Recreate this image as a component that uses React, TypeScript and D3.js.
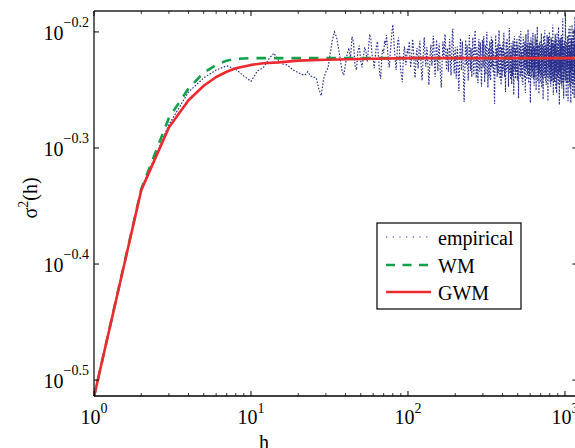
import React from "react";
import * as d3 from "d3";

const W = 575;
const H = 448;
const PL = 94;
const PT = 11;
const PR = 577.4;
const PB = 396;

const xDomain = [1, 1200];
const yDomain = [0.3064, 0.6577];
const xTickExps = [0, 1, 2, 3];
const yTickExps = [-0.2, -0.3, -0.4, -0.5];
const yTickLabels = ["\u22120.2", "\u22120.3", "\u22120.4", "\u22120.5"];

const modelLags = [1, 2, 3, 4, 5, 6, 7, 8, 10, 12, 15, 20, 30, 50, 100, 1200];
const wmValues = [0.306, 0.462, 0.532, 0.564, 0.582, 0.591, 0.596, 0.598, 0.599, 0.599, 0.599, 0.599, 0.599, 0.599, 0.599, 0.599];
const gwmValues = [0.306, 0.461, 0.522, 0.551, 0.567, 0.577, 0.583, 0.587, 0.591, 0.593, 0.594, 0.596, 0.597, 0.598, 0.599, 0.599];

const empirical = [
  0.306, 0.462, 0.525, 0.560, 0.576, 0.585, 0.590, 0.586, 0.578, 0.572, 0.584, 0.588, 0.598, 0.605, 0.596, 0.592, 0.591, 0.587, 0.584, 0.582,
  0.580, 0.579, 0.583, 0.578, 0.577, 0.576, 0.564, 0.556, 0.575, 0.583, 0.588, 0.605, 0.621, 0.631, 0.625, 0.612, 0.598, 0.584, 0.579, 0.592,
  0.604, 0.611, 0.598, 0.625, 0.618, 0.590, 0.585, 0.608, 0.614, 0.596, 0.588, 0.601, 0.612, 0.607, 0.595, 0.610, 0.628, 0.622, 0.603, 0.598,
  0.587, 0.602, 0.614, 0.619, 0.596, 0.582, 0.575, 0.599, 0.610, 0.605, 0.620, 0.615, 0.627, 0.611, 0.596, 0.588, 0.603, 0.617, 0.630, 0.640,
  0.626, 0.609, 0.597, 0.585, 0.601, 0.618, 0.624, 0.612, 0.595, 0.584, 0.578, 0.571, 0.590, 0.606, 0.613, 0.602, 0.591, 0.598, 0.610, 0.604,
  0.612, 0.619, 0.601, 0.588, 0.595, 0.607, 0.622, 0.615, 0.598, 0.583, 0.576, 0.590, 0.604, 0.611, 0.596, 0.587, 0.599, 0.613, 0.620, 0.608,
  0.594, 0.581, 0.573, 0.586, 0.602, 0.616, 0.624, 0.610, 0.597, 0.589, 0.600, 0.612, 0.605, 0.591, 0.579, 0.568, 0.582, 0.597, 0.609, 0.615,
  0.603, 0.590, 0.598, 0.614, 0.626, 0.618, 0.601, 0.586, 0.577, 0.592, 0.608, 0.621, 0.612, 0.596, 0.584, 0.595, 0.610, 0.617, 0.604, 0.589,
  0.580, 0.572, 0.565, 0.578, 0.594, 0.607, 0.619, 0.611, 0.598, 0.602, 0.615, 0.628, 0.620, 0.605, 0.593, 0.585, 0.598, 0.611, 0.606, 0.592,
  0.583, 0.596, 0.609, 0.622, 0.614, 0.600, 0.588, 0.579, 0.591, 0.604, 0.618, 0.632, 0.635, 0.619, 0.603, 0.590, 0.581, 0.594, 0.607, 0.612,
  0.599, 0.586, 0.575, 0.588, 0.601, 0.613, 0.608, 0.595, 0.582, 0.570, 0.561, 0.574, 0.589, 0.603, 0.616, 0.623, 0.610, 0.597, 0.585, 0.593,
  0.606, 0.619, 0.612, 0.598, 0.583, 0.569, 0.556, 0.549, 0.563, 0.580, 0.596, 0.610, 0.621, 0.613, 0.600, 0.591, 0.603, 0.615, 0.608, 0.594,
  0.582, 0.573, 0.587, 0.600, 0.614, 0.627, 0.619, 0.605, 0.592, 0.584, 0.597, 0.611, 0.604, 0.589, 0.577, 0.590, 0.603, 0.616, 0.624, 0.611,
  0.598, 0.586, 0.579, 0.592, 0.606, 0.620, 0.629, 0.633, 0.618, 0.602, 0.588, 0.576, 0.584, 0.599, 0.612, 0.607, 0.593, 0.581, 0.570, 0.585,
  0.600, 0.614, 0.622, 0.609, 0.595, 0.583, 0.591, 0.605, 0.618, 0.611, 0.597, 0.586, 0.574, 0.566, 0.579, 0.594, 0.608, 0.621, 0.613, 0.599,
  0.588, 0.602, 0.617, 0.626, 0.612, 0.597, 0.583, 0.571, 0.586, 0.601, 0.615, 0.608, 0.593, 0.580, 0.592, 0.607, 0.620, 0.631, 0.618, 0.604, 0.590, 0.578, 0.565, 0.581, 0.596,
  0.611, 0.603, 0.589, 0.576, 0.590, 0.605, 0.619, 0.612, 0.598, 0.585, 0.573, 0.587, 0.600, 0.614, 0.625, 0.616, 0.602, 0.588, 0.596, 0.609, 0.621, 0.610, 0.595, 0.582, 0.594,
  0.608, 0.599, 0.584, 0.570, 0.558, 0.547, 0.562, 0.578, 0.593, 0.606, 0.619, 0.627, 0.614, 0.600, 0.587, 0.597, 0.611, 0.604, 0.590, 0.577, 0.589, 0.603, 0.616, 0.609, 0.594,
  0.581, 0.592, 0.606, 0.620, 0.633, 0.624, 0.610, 0.596, 0.583, 0.575, 0.588, 0.602, 0.615, 0.607, 0.592, 0.579, 0.568, 0.583, 0.598, 0.612, 0.604, 0.589, 0.576, 0.590, 0.605,
  0.618, 0.611, 0.597, 0.584, 0.593, 0.607, 0.621, 0.630, 0.617, 0.602, 0.589, 0.577, 0.591, 0.606, 0.599, 0.585, 0.572, 0.560, 0.575, 0.591, 0.605, 0.619, 0.612, 0.597, 0.583,
  0.595, 0.609, 0.623, 0.614, 0.600, 0.587, 0.598, 0.612, 0.605, 0.590, 0.578, 0.566, 0.580, 0.595, 0.610, 0.624, 0.636, 0.622, 0.607, 0.593, 0.581, 0.594, 0.608, 0.601, 0.586,
  0.574, 0.588, 0.603, 0.617, 0.609, 0.594, 0.581, 0.569, 0.584, 0.599, 0.613, 0.606, 0.591, 0.578, 0.592, 0.607, 0.620, 0.611, 0.596, 0.582, 0.571, 0.557, 0.572, 0.588, 0.603,
  0.616, 0.626, 0.613, 0.599, 0.585, 0.596, 0.610, 0.603, 0.588, 0.575, 0.589, 0.604, 0.618, 0.610, 0.595, 0.582, 0.594, 0.608, 0.622, 0.615, 0.600, 0.586, 0.573, 0.587, 0.602,
  0.615, 0.607, 0.592, 0.579, 0.567, 0.553, 0.569, 0.585, 0.600, 0.614, 0.627, 0.618, 0.603, 0.589, 0.598, 0.612, 0.605, 0.590, 0.577, 0.591, 0.606, 0.620, 0.632, 0.621, 0.606,
  0.592, 0.580, 0.593, 0.607, 0.600, 0.585, 0.572, 0.586, 0.601, 0.615, 0.608, 0.593, 0.580, 0.568, 0.583, 0.598, 0.612, 0.625, 0.616, 0.601, 0.587, 0.597, 0.611, 0.604, 0.589,
  0.576, 0.590, 0.605, 0.619, 0.611, 0.596, 0.582, 0.571, 0.559, 0.574, 0.590, 0.604, 0.618, 0.628, 0.614, 0.599, 0.586, 0.595, 0.609, 0.602, 0.587, 0.574, 0.588, 0.603, 0.617,
  0.609, 0.594, 0.580, 0.592, 0.606, 0.621, 0.634, 0.623, 0.608, 0.594, 0.582, 0.570, 0.585, 0.600, 0.613, 0.606, 0.591, 0.578, 0.590, 0.604, 0.618, 0.610, 0.595, 0.581, 0.569,
  0.556, 0.548, 0.564, 0.580, 0.596, 0.611, 0.624, 0.615, 0.600, 0.587, 0.597, 0.610, 0.603, 0.589, 0.576, 0.590, 0.605, 0.619, 0.612, 0.597, 0.583, 0.592, 0.606, 0.620, 0.630,
  0.617, 0.602, 0.588, 0.575, 0.587, 0.601, 0.614, 0.607, 0.592, 0.579, 0.567, 0.582, 0.597, 0.611, 0.604, 0.589, 0.576, 0.590, 0.605, 0.619, 0.628, 0.616, 0.601, 0.587, 0.596,
  0.610, 0.603, 0.588, 0.574, 0.562, 0.577, 0.593, 0.608, 0.622, 0.614, 0.599, 0.585, 0.594, 0.608, 0.621, 0.638, 0.626, 0.611, 0.597, 0.584, 0.572, 0.586, 0.601, 0.615, 0.607,
  0.592, 0.579, 0.591, 0.605, 0.598, 0.583, 0.570, 0.558, 0.573, 0.589, 0.604, 0.618, 0.610, 0.595, 0.581, 0.593, 0.607, 0.620, 0.612, 0.597, 0.583, 0.571, 0.586, 0.601, 0.614,
  0.606, 0.591, 0.578, 0.589, 0.603, 0.617, 0.629, 0.619, 0.604, 0.590, 0.577, 0.565, 0.580, 0.596, 0.611, 0.603, 0.588, 0.575, 0.587, 0.602, 0.616, 0.608, 0.593, 0.579, 0.566,
  0.552, 0.567, 0.583, 0.598, 0.613, 0.626, 0.618, 0.603, 0.589, 0.598, 0.611, 0.604, 0.589, 0.576, 0.590, 0.606, 0.620, 0.633, 0.622, 0.607, 0.593, 0.581, 0.594, 0.608, 0.601,
  0.586, 0.573, 0.587, 0.602, 0.616, 0.609, 0.594, 0.580, 0.568, 0.583, 0.599, 0.613, 0.606, 0.591, 0.577, 0.589, 0.604, 0.618, 0.627, 0.615, 0.600, 0.586, 0.595, 0.609, 0.602,
  0.587, 0.574, 0.561, 0.550, 0.566, 0.582, 0.597, 0.612, 0.625, 0.617, 0.602, 0.588, 0.597, 0.611, 0.604, 0.589, 0.575, 0.590, 0.605, 0.619, 0.631, 0.620, 0.605, 0.591, 0.579,
  0.592, 0.606, 0.599, 0.584, 0.571, 0.585, 0.600, 0.614, 0.607, 0.592, 0.578, 0.566, 0.581, 0.597, 0.612, 0.624, 0.615, 0.600, 0.586, 0.595, 0.609, 0.622, 0.613, 0.598, 0.584,
  0.572, 0.586, 0.601, 0.615, 0.607, 0.592, 0.578, 0.590, 0.604, 0.619, 0.635, 0.640, 0.624, 0.609, 0.595, 0.582, 0.569, 0.557, 0.572, 0.588, 0.603, 0.617, 0.609, 0.594, 0.580,
  0.593, 0.607, 0.621, 0.612, 0.597, 0.583, 0.571, 0.585, 0.600, 0.614, 0.606, 0.591, 0.577, 0.589, 0.604, 0.618, 0.628, 0.616, 0.601, 0.587, 0.575, 0.563, 0.578, 0.594, 0.609,
  0.622, 0.613, 0.598, 0.584, 0.594, 0.608, 0.601, 0.586, 0.572, 0.559, 0.574, 0.590, 0.605, 0.619, 0.630, 0.618, 0.603, 0.589, 0.598, 0.612, 0.605, 0.590, 0.576, 0.589, 0.603,
  0.617, 0.609, 0.594, 0.580, 0.568, 0.583, 0.598, 0.612, 0.626, 0.637, 0.624, 0.609, 0.595, 0.582, 0.592, 0.606, 0.599, 0.584, 0.570, 0.556, 0.546, 0.561, 0.577, 0.593, 0.608,
  0.621, 0.613, 0.598, 0.584, 0.595, 0.609, 0.623, 0.615, 0.600, 0.586, 0.574, 0.588, 0.603, 0.617, 0.610, 0.595, 0.581, 0.569, 0.584, 0.599, 0.614, 0.627, 0.618, 0.603, 0.589,
  0.598, 0.612, 0.605, 0.590, 0.576, 0.564, 0.579, 0.595, 0.610, 0.624, 0.616, 0.601, 0.587, 0.596, 0.610, 0.623, 0.634, 0.648, 0.628, 0.612, 0.597, 0.583, 0.571, 0.585, 0.600,
  0.614, 0.607, 0.592, 0.578, 0.566, 0.553, 0.568, 0.584, 0.599, 0.613, 0.605, 0.590, 0.577, 0.591, 0.606, 0.620, 0.612, 0.597, 0.583, 0.594, 0.608, 0.621, 0.613, 0.598, 0.584,
  0.572, 0.587, 0.602, 0.616, 0.629, 0.641, 0.655, 0.630, 0.614, 0.599, 0.585, 0.573, 0.587, 0.602, 0.595, 0.580, 0.567, 0.555, 0.570, 0.586, 0.601, 0.615, 0.608, 0.593, 0.579,
  0.591, 0.605, 0.619, 0.611, 0.596, 0.582, 0.570, 0.584, 0.599, 0.613, 0.626, 0.617, 0.602, 0.588, 0.597, 0.611, 0.604, 0.589, 0.575, 0.562, 0.550, 0.565, 0.581, 0.597, 0.612,
  0.625, 0.616, 0.601, 0.587, 0.596, 0.610, 0.624, 0.636, 0.622, 0.607, 0.593, 0.580, 0.592, 0.606, 0.599, 0.584, 0.571, 0.585, 0.600, 0.614, 0.606, 0.591, 0.577, 0.565, 0.580,
  0.596, 0.611, 0.625, 0.638, 0.626, 0.611, 0.597, 0.583, 0.593, 0.607, 0.600, 0.585, 0.571, 0.558, 0.548, 0.563, 0.579, 0.595, 0.610, 0.623, 0.614, 0.599, 0.585, 0.594, 0.608,
  0.622, 0.613, 0.598, 0.583, 0.570, 0.584, 0.599, 0.613, 0.628, 0.640, 0.627, 0.612, 0.597, 0.583, 0.592, 0.606, 0.599, 0.584, 0.570, 0.557, 0.572, 0.588, 0.603, 0.617, 0.609,
  0.594, 0.580, 0.568, 0.582, 0.598, 0.613, 0.626, 0.618, 0.603, 0.589, 0.598, 0.612, 0.625, 0.634, 0.620, 0.605, 0.591, 0.578, 0.566, 0.553, 0.568, 0.584, 0.600, 0.615, 0.607,
  0.592, 0.578, 0.590, 0.604, 0.618, 0.631, 0.650, 0.629, 0.614, 0.599, 0.585, 0.572, 0.586, 0.601, 0.594, 0.579, 0.565, 0.551, 0.566, 0.582, 0.597, 0.612, 0.626, 0.617, 0.602,
  0.588, 0.597, 0.611, 0.604, 0.589, 0.575, 0.563, 0.578, 0.594, 0.609, 0.623, 0.636, 0.624, 0.609, 0.595, 0.581, 0.569, 0.584, 0.599, 0.613, 0.606, 0.591, 0.577, 0.590, 0.604,
];

const legendItems = ["empirical", "WM", "GWM"];
const BLUE = "#2b2f8e";
const GREEN = "#12a14b";
const RED = "#ec2a2f";
const FONT = "'Liberation Serif', 'Times New Roman', serif";

export default function App() {
  const x = d3.scaleLog().domain(xDomain).range([PL, PR]);
  const y = d3.scaleLog().domain(yDomain).range([PB, PT]);
  const line = d3
    .line<[number, number]>()
    .x((d) => x(d[0]))
    .y((d) => y(d[1]));

  const empPts: [number, number][] = empirical.map((v, i) => [i + 1, v]);
  const wmPts: [number, number][] = modelLags.map((h, i) => [h, wmValues[i]]);
  const gwmPts: [number, number][] = modelLags.map((h, i) => [h, gwmValues[i]]);

  const minorTicks: number[] = [];
  for (const e of [0, 1, 2]) {
    for (let k = 2; k <= 9; k++) {
      const v = k * Math.pow(10, e);
      if (v <= xDomain[1]) minorTicks.push(v);
    }
  }
  const majorX = xTickExps.map((e) => Math.pow(10, e)).filter((v) => v <= xDomain[1]);

  const lx = 377, ly = 223, lw = 144, lh = 86;
  const rowY = [237, 265, 292];

  return (
    <svg width={W} height={H} style={{ display: "block", position: "absolute", left: 0, top: 0 }} fontFamily={FONT}>
      <rect x={0} y={0} width={W} height={H} fill="#fff" />
      <defs>
        <clipPath id="plotclip">
          <rect x={PL} y={PT} width={PR - PL} height={PB - PT} />
        </clipPath>
      </defs>
      <g clipPath="url(#plotclip)">
        <path d={line(empPts) || ""} fill="none" stroke={BLUE} strokeWidth={1.15} strokeDasharray="1.6,1.6" />
        <path d={line(wmPts) || ""} fill="none" stroke={GREEN} strokeWidth={2.6} strokeDasharray="9.5,8" />
        <path d={line(gwmPts) || ""} fill="none" stroke={RED} strokeWidth={2.6} strokeLinejoin="round" />
      </g>

      {/* axes box */}
      <g stroke="#000" fill="none">
        <line x1={PL} x2={PL} y1={PT} y2={PB} strokeWidth={1.2} />
        <line x1={PL} x2={PR} y1={PB} y2={PB} strokeWidth={1.3} />
        <line x1={PL} x2={PR} y1={PT} y2={PT} strokeWidth={1.3} stroke="#222" />
        <line x1={PR} x2={PR} y1={PT} y2={PB} strokeWidth={1.2} />
        {majorX.map((v) => (
          <g key={"mx" + v}>
            <line x1={x(v)} x2={x(v)} y1={PB} y2={PB - 5} strokeWidth={1} />
            <line x1={x(v)} x2={x(v)} y1={PT} y2={PT + 5} strokeWidth={1} />
          </g>
        ))}
        {minorTicks.map((v) => (
          <g key={"mn" + v}>
            <line x1={x(v)} x2={x(v)} y1={PB} y2={PB - 3} strokeWidth={0.8} />
            <line x1={x(v)} x2={x(v)} y1={PT} y2={PT + 3} strokeWidth={0.8} />
          </g>
        ))}
        {yTickExps.map((e) => (
          <g key={"my" + e}>
            <line x1={PL} x2={PL + 5} y1={y(Math.pow(10, e))} y2={y(Math.pow(10, e))} strokeWidth={1} />
            <line x1={PR} x2={PR - 5} y1={y(Math.pow(10, e))} y2={y(Math.pow(10, e))} strokeWidth={1} />
          </g>
        ))}
      </g>

      {/* y tick labels */}
      {yTickExps.map((e, i) => (
        <text key={"yl" + e} x={89} y={y(Math.pow(10, e)) + 8} textAnchor="end" fill="#000">
          <tspan fontSize={20}>10</tspan>
          <tspan fontSize={14} dy={-13}>{yTickLabels[i]}</tspan>
        </text>
      ))}

      {/* x tick labels */}
      {xTickExps.map((e) => (
        <text key={"xl" + e} x={x(Math.pow(10, e))} y={424} textAnchor="middle" fill="#000">
          <tspan fontSize={20}>10</tspan>
          <tspan fontSize={14} dy={-11}>{String(e)}</tspan>
        </text>
      ))}

      {/* axis labels */}
      <text x={264} y={449} textAnchor="middle" fontSize={20} fill="#000">h</text>
      <text transform="translate(37,198) rotate(-90)" textAnchor="middle" fontSize={20} fill="#000">
        σ<tspan fontSize={14} dy={-9}>2</tspan><tspan dy={9}>(h)</tspan>
      </text>

      {/* legend */}
      <rect x={lx} y={ly} width={lw} height={lh} fill="#fff" stroke="#000" strokeWidth={1.2} />
      <line x1={386} x2={431} y1={rowY[0]} y2={rowY[0]} stroke={BLUE} strokeWidth={1} strokeDasharray="1.2,5.5" />
      <line x1={386} x2={431} y1={rowY[1]} y2={rowY[1]} stroke={GREEN} strokeWidth={2.6} strokeDasharray="9,7.5" />
      <line x1={386} x2={431} y1={rowY[2]} y2={rowY[2]} stroke={RED} strokeWidth={2.6} />
      {legendItems.map((t, i) => (
        <text key={t} x={438} y={rowY[i] + 8} fontSize={20} fill="#000">{t}</text>
      ))}
    </svg>
  );
}
